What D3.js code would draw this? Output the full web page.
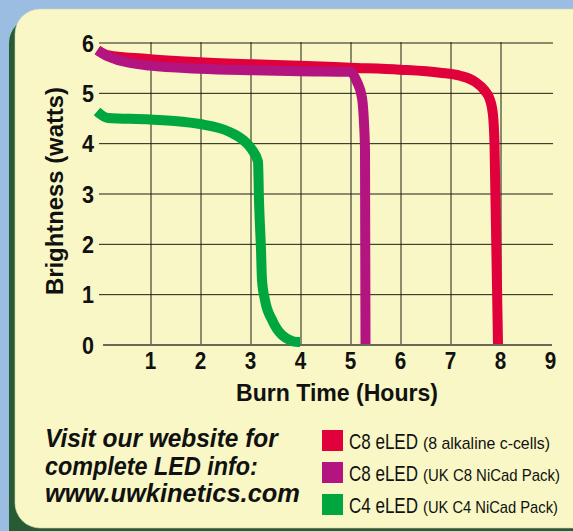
<!DOCTYPE html>
<html>
<head>
<meta charset="utf-8">
<script src="https://cdnjs.cloudflare.com/ajax/libs/d3/7.8.5/d3.min.js"></script>
<style>
  html, body { margin: 0; padding: 0; background: #9bbde2; }
  svg { display: block; }
  .cond { font-family: "Liberation Sans", Arial, sans-serif; }
</style>
</head>
<body>
<div id="app"></div>
<script>
// values: [hours, watts]
var c8Alkaline = [[-0.05,5.84],[0.15,5.74],[1,5.66],[2,5.6],[3,5.56],[4,5.53],[5,5.49],[6,5.45],[6.8,5.39],[7.2,5.33],[7.5,5.21],[7.68,5.05],[7.8,4.85],[7.86,4.55],[7.89,4.0],[7.96,0]];
var c8NiCad = [[-0.05,5.84],[0.15,5.72],[1,5.53],[2,5.47],[3,5.44],[4,5.42],[5,5.41],[5.14,5.21],[5.24,4.89],[5.28,4.39],[5.3,3.86],[5.31,0]];
var c4NiCad = [[-0.06,4.62],[0.16,4.49],[1,4.46],[2,4.37],[2.6,4.21],[2.9,4.02],[3.04,3.86],[3.16,3.62],[3.18,2.86],[3.22,1.87],[3.24,1.27],[3.3,0.87],[3.44,0.48],[3.64,0.18],[3.96,0.04],[4.0,0.04]];

var hourTicks = [1,2,3,4,5,6,7,8,9];
var gridHours = [1,2,3,4,5,6,7,8];
var wattTicks = [0,1,2,3,4,5,6];

var legendMain = ['C8 eLED','C8 eLED','C4 eLED'];
var legendSub = ['(8 alkaline c-cells)','(UK C8 NiCad Pack)','(UK C4 NiCad Pack)'];
var colors = ['#e0003b','#b4147f','#00a640'];
var note = ['Visit our website for','complete LED info:','www.uwkinetics.com'];

// text widths seen in the picture (the fonts there are condensed)
var legendMainWidth = [69,69,69];
var legendSubWidth = [127,137,135];
var noteWidth = [233,213,255];

// squeeze each text horizontally to a given width
function squeeze(sel, widths){
    sel.each(function(d,i){
        var n = this.getComputedTextLength();
        var x0 = +this.getAttribute('x'), y0 = +this.getAttribute('y');
        d3.select(this)
            .attr('x',0).attr('y',0)
            .attr('transform','translate('+x0+','+y0+') scale('+(widths[i]/n)+',1)');
    });
}

var svg = d3.select('#app')
  .append('svg')
    .attr('width',573)
    .attr('height',531);

// card + shadow
svg.append('rect')
    .attr('x',9).attr('y',18)
    .attr('width',620).attr('height',540)
    .attr('rx',25)
    .style('fill','#285b33');
svg.append('rect')
    .attr('x',15).attr('y',9)
    .attr('width',620).attr('height',519)
    .attr('rx',25)
    .style('fill','#f8f7c5')
    .style('stroke','#cfd6b8')
    .style('stroke-width',0.6);

var x = d3.scaleLinear().domain([0,9]).range([100,550]);
var y = d3.scaleLinear().domain([0,6]).range([344,42]);

// vertical grid
svg.append('g')
    .attr('transform','translate(0.5,344)')
    .call(d3.axisBottom(x).tickValues(gridHours).tickSize(-(y(0)-y(6))).tickFormat(''))
    .call(function(g){ g.select('.domain').remove(); })
    .selectAll('line')
    .style('stroke','#1e1e14');

// horizontal grid + y labels
var yAxis = svg.append('g')
    .attr('class','cond')
    .attr('transform','translate(99,0.5)')
    .call(d3.axisLeft(y).tickValues(wattTicks).tickSize(-454).tickPadding(5).tickFormat(d3.format('d')));
yAxis.select('.domain').remove();
yAxis.selectAll('line').style('stroke','#1e1e14');
yAxis.selectAll('line').filter(function(d){return d===0;})
    .attr('x1',4).attr('x2',453)
    .style('stroke','#3a3a30').style('stroke-width',1.6);
yAxis.selectAll('text')
    .attr('dy','0.36em')
    .attr('textLength',12)
    .attr('lengthAdjust','spacingAndGlyphs')
    .style('font-size','24px')
    .style('font-weight','bold')
    .style('fill','#111');

// x labels
var xAxis = svg.append('g')
    .attr('class','cond')
    .attr('transform','translate(0,344)')
    .call(d3.axisBottom(x).tickValues(hourTicks).tickSize(0).tickFormat(d3.format('d')));
xAxis.select('.domain').remove();
xAxis.selectAll('text')
    .attr('y',25)
    .attr('dy',0)
    .attr('textLength',11.5)
    .attr('lengthAdjust','spacingAndGlyphs')
    .style('font-size','24px')
    .style('font-weight','bold')
    .style('fill','#111');

var line = d3.line()
    .x(function(d){return x(d[0]);})
    .y(function(d){return y(d[1]);})
    .curve(d3.curveMonotoneX);

svg.append('g')
    .selectAll('path')
    .data([c8Alkaline,c8NiCad,c4NiCad])
  .enter().append('path')
    .attr('d',line)
    .style('fill','none')
    .style('stroke',function(d,i){return colors[i];})
    .style('stroke-width',10)
    .style('stroke-linecap','butt')
    .style('stroke-linejoin','round');

// axis titles
svg.append('text')
    .attr('class','cond')
    .text('Burn Time (Hours)')
    .attr('x',337)
    .attr('y',401)
    .attr('textLength',202)
    .attr('lengthAdjust','spacingAndGlyphs')
    .style('text-anchor','middle')
    .style('font-size','24px')
    .style('font-weight','bold')
    .style('fill','#111');

svg.append('text')
    .attr('class','cond')
    .text('Brightness (watts)')
    .attr('transform','translate(63,191) rotate(-90)')
    .attr('textLength',208)
    .attr('lengthAdjust','spacingAndGlyphs')
    .style('text-anchor','middle')
    .style('font-size','24px')
    .style('font-weight','bold')
    .style('fill','#111');

// website note
svg.append('g')
    .selectAll('text')
    .data(note)
  .enter().append('text')
    .text(function(d){return d;})
    .attr('x',45)
    .attr('y',function(d,i){return 447+i*27.5;})
    .style('font-family','"Liberation Sans", Arial, sans-serif')
    .style('font-style','italic')
    .style('font-weight','bold')
    .style('font-size','25px')
    .style('fill','#111')
    .call(squeeze,noteWidth);

// legend
var legend = svg.append('g')
    .selectAll('g')
    .data(legendMain)
  .enter().append('g')
    .attr('transform',function(d,i){return 'translate(322,'+(430+i*32)+')';});

legend.append('rect')
    .attr('width',21)
    .attr('height',21)
    .style('fill',function(d,i){return colors[i];});

legend.append('text')
    .attr('class','cond')
    .text(function(d){return d;})
    .attr('x',27)
    .attr('y',19)
    .style('font-size','22px')
    .style('fill','#111')
    .call(squeeze,legendMainWidth);

legend.append('text')
    .attr('class','cond')
    .text(function(d,i){return legendSub[i];})
    .attr('x',101)
    .attr('y',19)
    .style('font-size','17px')
    .style('fill','#111')
    .call(squeeze,legendSubWidth);
</script>
</body>
</html>
